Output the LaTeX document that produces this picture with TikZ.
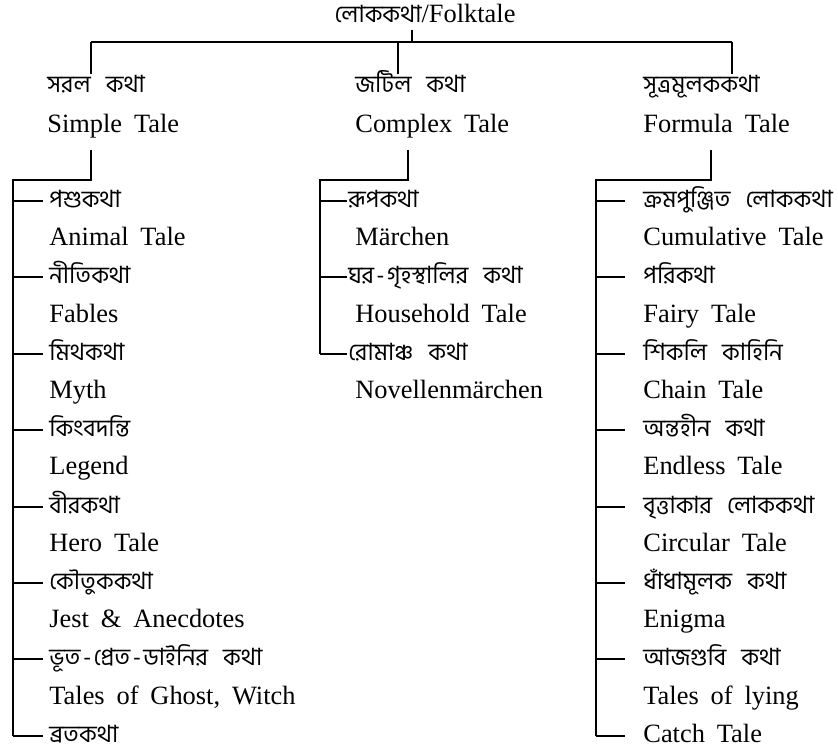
\documentclass[tikz,border=0pt]{standalone}
\usepackage{fontspec}
\setmainfont{Liberation Serif}[WordSpace=1.8]
\newfontfamily\bnfont[Script=Bengali,Scale=0.9,WordSpace=2.8]{Hind Siliguri}
\newcommand{\bnhy}{\kern1.2pt-\kern1.2pt} % wider hyphen, as in the print

\begin{document}
\begin{tikzpicture}[
    % Global style settings (1 unit = 1 pixel of the page)
    x=0.5pt, y=-0.5pt,
    tree_line/.style={line width=0.6pt},
    label_base/.style={ % Common box for every label, so all rows line up
        anchor=west,
        inner sep=0pt,
        text height=9pt,
        text depth=2.5pt
    },
    en_style/.style={ % Style for the English names
        label_base,
        font=\fontsize{13.2}{15}\selectfont
    },
    bn_style/.style={ % Style for the Bengali names
        label_base,
        font=\fontsize{13.2}{15}\selectfont\bnfont
    }
]
    \useasboundingbox (0,0) rectangle (838,754);

    % 1. The root and the three kinds of tale.
    \node[en_style, anchor=center] (root) at (425,16) {{\bnfont লোককথা}/Folktale};

    \node[bn_style] (simple_bn) at (47,86) {সরল কথা};
    \node[en_style] (simple_en) at (47,126) {Simple Tale};
    \node[bn_style] (complex_bn) at (355,86) {জটিল কথা};
    \node[en_style] (complex_en) at (355,126) {Complex Tale};
    \node[bn_style] (formula_bn) at (643,86) {সূত্রমূলককথা};
    \node[en_style] (formula_en) at (643,126) {Formula Tale};

    % 2. Points where the tree lines meet.
    \coordinate (hub) at (412,42);
    \coordinate (bar_left) at (91,42);
    \coordinate (bar_mid) at (398,42);
    \coordinate (bar_right) at (732,42);
    \coordinate (sub_left) at (91,180);
    \coordinate (sub_mid) at (408,180);
    \coordinate (sub_right) at (711,180);
    \coordinate (bus_left) at (13,180);
    \coordinate (bus_mid) at (320,180);
    \coordinate (bus_right) at (596,180);

    % 3. Simple tales (left column).
    \node[bn_style] (animal_bn) at (49,201) {পশুকথা};
    \node[en_style] (animal_en) at (49,239) {Animal Tale};
    \node[bn_style] (fable_bn) at (49,277) {নীতিকথা};
    \node[en_style] (fable_en) at (49,316) {Fables};
    \node[bn_style] (myth_bn) at (49,354) {মিথকথা};
    \node[en_style] (myth_en) at (49,392) {Myth};
    \node[bn_style] (legend_bn) at (49,430) {কিংবদন্তি};
    \node[en_style] (legend_en) at (49,468) {Legend};
    \node[bn_style] (hero_bn) at (49,507) {বীরকথা};
    \node[en_style] (hero_en) at (49,545) {Hero Tale};
    \node[bn_style] (jest_bn) at (49,583) {কৌতুককথা};
    \node[en_style] (jest_en) at (49,621) {Jest \& Anecdotes};
    \node[bn_style] (ghost_bn) at (49,659) {ভূত\bnhy প্রেত\bnhy ডাইনির কথা};
    \node[en_style] (ghost_en) at (49,698) {Tales of Ghost, Witch};
    \node[bn_style] (vrata_bn) at (49,736) {ব্রতকথা};

    % 4. Complex tales (middle column).
    \node[bn_style] (maerchen_bn) at (348,201) {রূপকথা};
    \node[en_style] (maerchen_en) at (355,239) {Märchen};
    \node[bn_style] (household_bn) at (348,277) {ঘর\bnhy গৃহস্থালির কথা};
    \node[en_style] (household_en) at (355,316) {Household Tale};
    \node[bn_style] (novelle_bn) at (348,354) {রোমাঞ্চ কথা};
    \node[en_style] (novelle_en) at (355,392) {Novellenmärchen};

    % 5. Formula tales (right column).
    \node[bn_style] (cumul_bn) at (643,201) {ক্রমপুঞ্জিত লোককথা};
    \node[en_style] (cumul_en) at (643,239) {Cumulative Tale};
    \node[bn_style] (fairy_bn) at (643,277) {পরিকথা};
    \node[en_style] (fairy_en) at (643,316) {Fairy Tale};
    \node[bn_style] (chain_bn) at (643,354) {শিকলি কাহিনি};
    \node[en_style] (chain_en) at (643,392) {Chain Tale};
    \node[bn_style] (endless_bn) at (643,430) {অন্তহীন কথা};
    \node[en_style] (endless_en) at (643,468) {Endless Tale};
    \node[bn_style] (circular_bn) at (643,507) {বৃত্তাকার লোককথা};
    \node[en_style] (circular_en) at (643,545) {Circular Tale};
    \node[bn_style] (enigma_bn) at (643,583) {ধাঁধামূলক কথা};
    \node[en_style] (enigma_en) at (643,621) {Enigma};
    \node[bn_style] (lying_bn) at (643,659) {আজগুবি কথা};
    \node[en_style] (lying_en) at (643,698) {Tales of lying};
    \node[en_style] (catch_en) at (643,736) {Catch Tale};

    % 6. Top of the tree.
    \draw[tree_line, shorten <=1pt] (root.south -| hub) -- (hub);
    \draw[tree_line] (bar_left) -- (bar_right);
    \draw[tree_line] (bar_left) -- (bar_left |- simple_bn.north);
    \draw[tree_line] (bar_mid) -- (bar_mid |- complex_bn.north);
    \draw[tree_line] (bar_right) -- (bar_right |- formula_bn.north);

    % 7. Drops to the three buses.
    \draw[tree_line, shorten <=6pt] (simple_en.south -| sub_left) -- (sub_left) -- (bus_left) -- (bus_left |- vrata_bn);
    \draw[tree_line, shorten <=6pt] (complex_en.south -| sub_mid) -- (sub_mid) -- (bus_mid) -- (bus_mid |- novelle_bn);
    \draw[tree_line, shorten <=6pt] (formula_en.south -| sub_right) -- (sub_right) -- (bus_right) -- (bus_right |- catch_en);

    % 8. Branches to the items.
    \draw[tree_line, shorten >=3pt] (bus_left |- animal_bn) -- (animal_bn.west);
    \draw[tree_line, shorten >=3pt] (bus_left |- fable_bn) -- (fable_bn.west);
    \draw[tree_line, shorten >=3pt] (bus_left |- myth_bn) -- (myth_bn.west);
    \draw[tree_line, shorten >=3pt] (bus_left |- legend_bn) -- (legend_bn.west);
    \draw[tree_line, shorten >=3pt] (bus_left |- hero_bn) -- (hero_bn.west);
    \draw[tree_line, shorten >=3pt] (bus_left |- jest_bn) -- (jest_bn.west);
    \draw[tree_line, shorten >=3pt] (bus_left |- ghost_bn) -- (ghost_bn.west);
    \draw[tree_line, shorten >=3pt] (bus_left |- vrata_bn) -- (vrata_bn.west);

    \draw[tree_line, shorten >=0.5pt] (bus_mid |- maerchen_bn) -- (maerchen_bn.west);
    \draw[tree_line, shorten >=0.5pt] (bus_mid |- household_bn) -- (household_bn.west);
    \draw[tree_line, shorten >=0.5pt] (bus_mid |- novelle_bn) -- (novelle_bn.west);

    \draw[tree_line, shorten >=9pt] (bus_right |- cumul_bn) -- (cumul_bn.west);
    \draw[tree_line, shorten >=9pt] (bus_right |- fairy_bn) -- (fairy_bn.west);
    \draw[tree_line, shorten >=9pt] (bus_right |- chain_bn) -- (chain_bn.west);
    \draw[tree_line, shorten >=9pt] (bus_right |- endless_bn) -- (endless_bn.west);
    \draw[tree_line, shorten >=9pt] (bus_right |- circular_bn) -- (circular_bn.west);
    \draw[tree_line, shorten >=9pt] (bus_right |- enigma_bn) -- (enigma_bn.west);
    \draw[tree_line, shorten >=9pt] (bus_right |- lying_bn) -- (lying_bn.west);
    \draw[tree_line, shorten >=9pt] (bus_right |- catch_en) -- (catch_en.west);

\end{tikzpicture}
\end{document}
